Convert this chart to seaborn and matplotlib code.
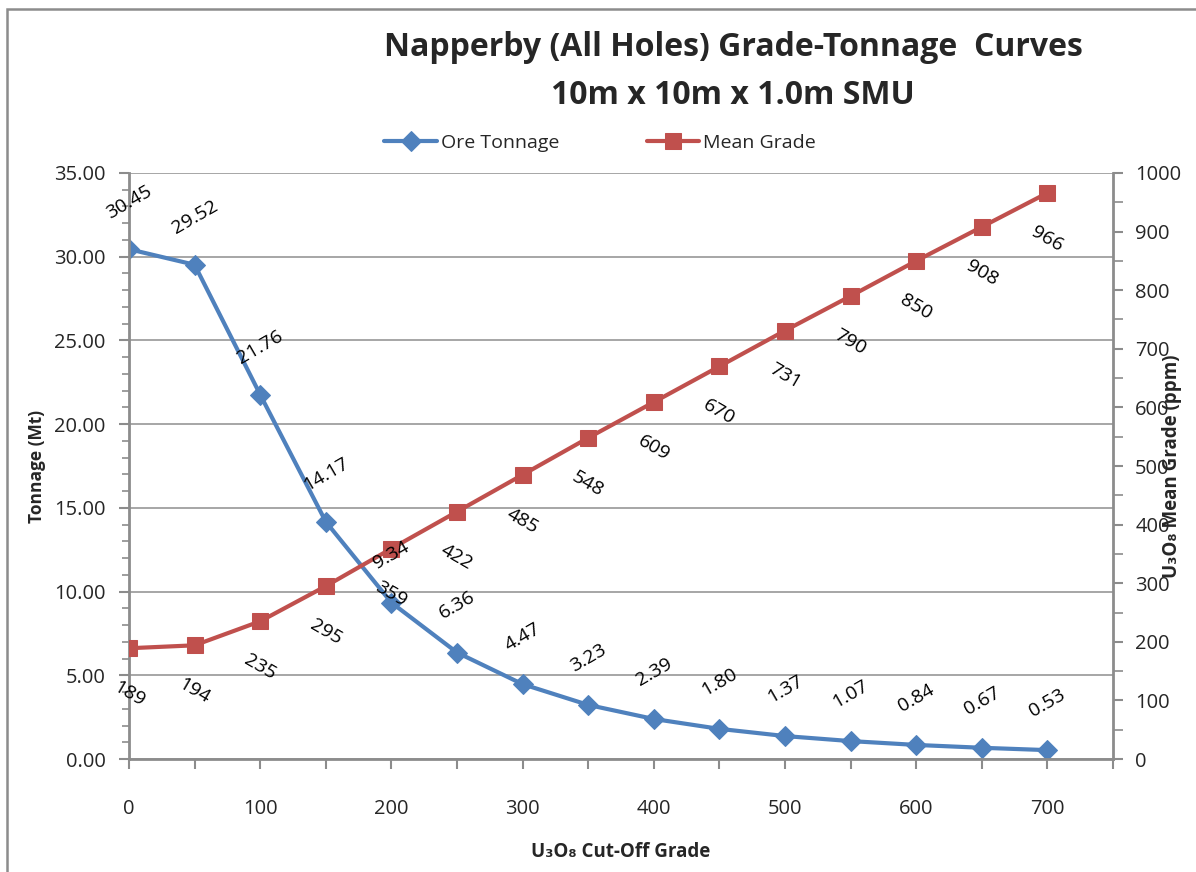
import matplotlib
matplotlib.use("Agg")
import matplotlib.pyplot as plt
import seaborn as sns
import numpy as np
from matplotlib.patches import Rectangle
from matplotlib.ticker import MultipleLocator, FormatStrFormatter

# ---- data ----
cutoff = [0, 50, 100, 150, 200, 250, 300, 350, 400, 450, 500, 550, 600, 650, 700]
ore_tonnage = [30.45, 29.52, 21.76, 14.17, 9.34, 6.36, 4.47, 3.23, 2.39, 1.80,
               1.37, 1.07, 0.84, 0.67, 0.53]
mean_grade = [189, 194, 235, 295, 359, 422, 485, 548, 609, 670, 731, 790, 850, 908, 966]
x_tick_labels = [0, 100, 200, 300, 400, 500, 600, 700]

title_line1 = "Napperby (All Holes) Grade-Tonnage  Curves"
title_line2 = "10m x 10m x 1.0m SMU"

BLUE = "#4F81BD"
RED = "#C0504D"
AXIS_GRAY = "#8C8C8C"
GRID_GRAY = "#A6A6A6"

sns.set_theme(style="white")
plt.rcParams['font.family'] = ['Open Sans', 'DejaVu Sans']

fig = plt.figure(figsize=(11.96, 8.72), dpi=100)
fig.patch.set_facecolor("white")
W, H = 1196, 872
ax = fig.add_axes([129 / W, 1 - 759 / H, (1113 - 129) / W, (759 - 173) / H])
ax2 = ax.twinx()

sns.lineplot(x=cutoff, y=ore_tonnage, ax=ax, color=BLUE, linewidth=3.0,
             marker="D", markersize=10, markeredgecolor=BLUE, label="Ore Tonnage",
             legend=False)
sns.lineplot(x=cutoff, y=mean_grade, ax=ax2, color=RED, linewidth=3.0,
             marker="s", markersize=11, markeredgecolor=RED, label="Mean Grade",
             legend=False)

ax.set_xlim(0, 750)
ax.set_ylim(0, 35)
ax2.set_ylim(0, 1000)

ax.set_xticks(np.arange(0, 751, 50))
ax.set_xticklabels([str(v) if v in x_tick_labels else "" for v in range(0, 751, 50)])
ax.yaxis.set_major_locator(MultipleLocator(5))
ax.yaxis.set_minor_locator(MultipleLocator(1))
ax.yaxis.set_major_formatter(FormatStrFormatter("%.2f"))
ax2.yaxis.set_major_locator(MultipleLocator(100))
ax2.yaxis.set_minor_locator(MultipleLocator(50))

ax.grid(axis="y", which="major", color=GRID_GRAY, linewidth=1.4)
ax.grid(axis="x", visible=False)
ax2.grid(False)

for sp in ["top", "right"]:
    ax.spines[sp].set_visible(False)
for sp in ["top", "left", "bottom"]:
    ax2.spines[sp].set_visible(False)
for a, sp in [(ax, "left"), (ax, "bottom"), (ax2, "right")]:
    a.spines[sp].set_color(AXIS_GRAY)
    a.spines[sp].set_linewidth(2.0)

tick_fs = 14.5
ax.tick_params(axis="x", which="major", direction="out", length=7, width=1.5,
               color=AXIS_GRAY, labelsize=tick_fs, pad=22, bottom=True)
ax.tick_params(axis="y", which="major", direction="out", length=7, width=1.5,
               color=AXIS_GRAY, labelsize=tick_fs, pad=10, left=True)
ax.tick_params(axis="y", which="minor", direction="out", length=5, width=1.2,
               color=AXIS_GRAY, left=True)
ax2.tick_params(axis="y", which="major", direction="out", length=7, width=1.5,
                color=AXIS_GRAY, labelsize=tick_fs, pad=9, right=True)
ax2.tick_params(axis="y", which="minor", direction="out", length=7, width=1.2,
                color=AXIS_GRAY, right=True)

ax.set_xlabel("U₃O₈ Cut-Off Grade", fontsize=13.5, fontweight="bold", labelpad=16)
ax.set_ylabel("Tonnage (Mt)", fontsize=12.5, fontweight="bold", labelpad=6)
ax2.set_ylabel("U₃O₈ Mean Grade (ppm)", fontsize=13.5, fontweight="bold", labelpad=-14)

# data labels
lab_fs = 14
for xv, yv in zip(cutoff, ore_tonnage):
    ax2.annotate(f"{yv:.2f}", xy=(xv, yv), xycoords=ax.transData,
                 xytext=(0, 34), textcoords="offset points", ha="center", va="center",
                 rotation=30, fontsize=lab_fs, color="black", zorder=10)
for xv, yv in zip(cutoff, mean_grade):
    ax2.annotate(f"{yv:d}", xy=(xv, yv), xycoords=ax2.transData,
                 xytext=(0, -33), textcoords="offset points", ha="center", va="center",
                 rotation=-30, fontsize=lab_fs, color="black", zorder=10)

# titles
fig.text(733 / W, 1 - 47 / H, title_line1, ha="center", va="center",
         fontsize=23, fontweight="bold")
fig.text(733 / W, 1 - 95 / H, title_line2, ha="center", va="center",
         fontsize=23, fontweight="bold")

# legend
h1, l1 = ax.get_legend_handles_labels()
h2, l2 = ax2.get_legend_handles_labels()
fig.legend(h1 + h2, l1 + l2, loc="center", bbox_to_anchor=(600 / W, 1 - 143 / H),
           ncol=2, frameon=False, fontsize=14, handlelength=2.7, columnspacing=4.5,
           handletextpad=0.2)

# chart border
fig.add_artist(Rectangle((7 / W, -0.1), 1.2, 1.1 - 9 / H, transform=fig.transFigure,
                         fill=False, edgecolor="#8C8C8C", linewidth=1.8))

fig.savefig("out.png", dpi=100, facecolor="white")
